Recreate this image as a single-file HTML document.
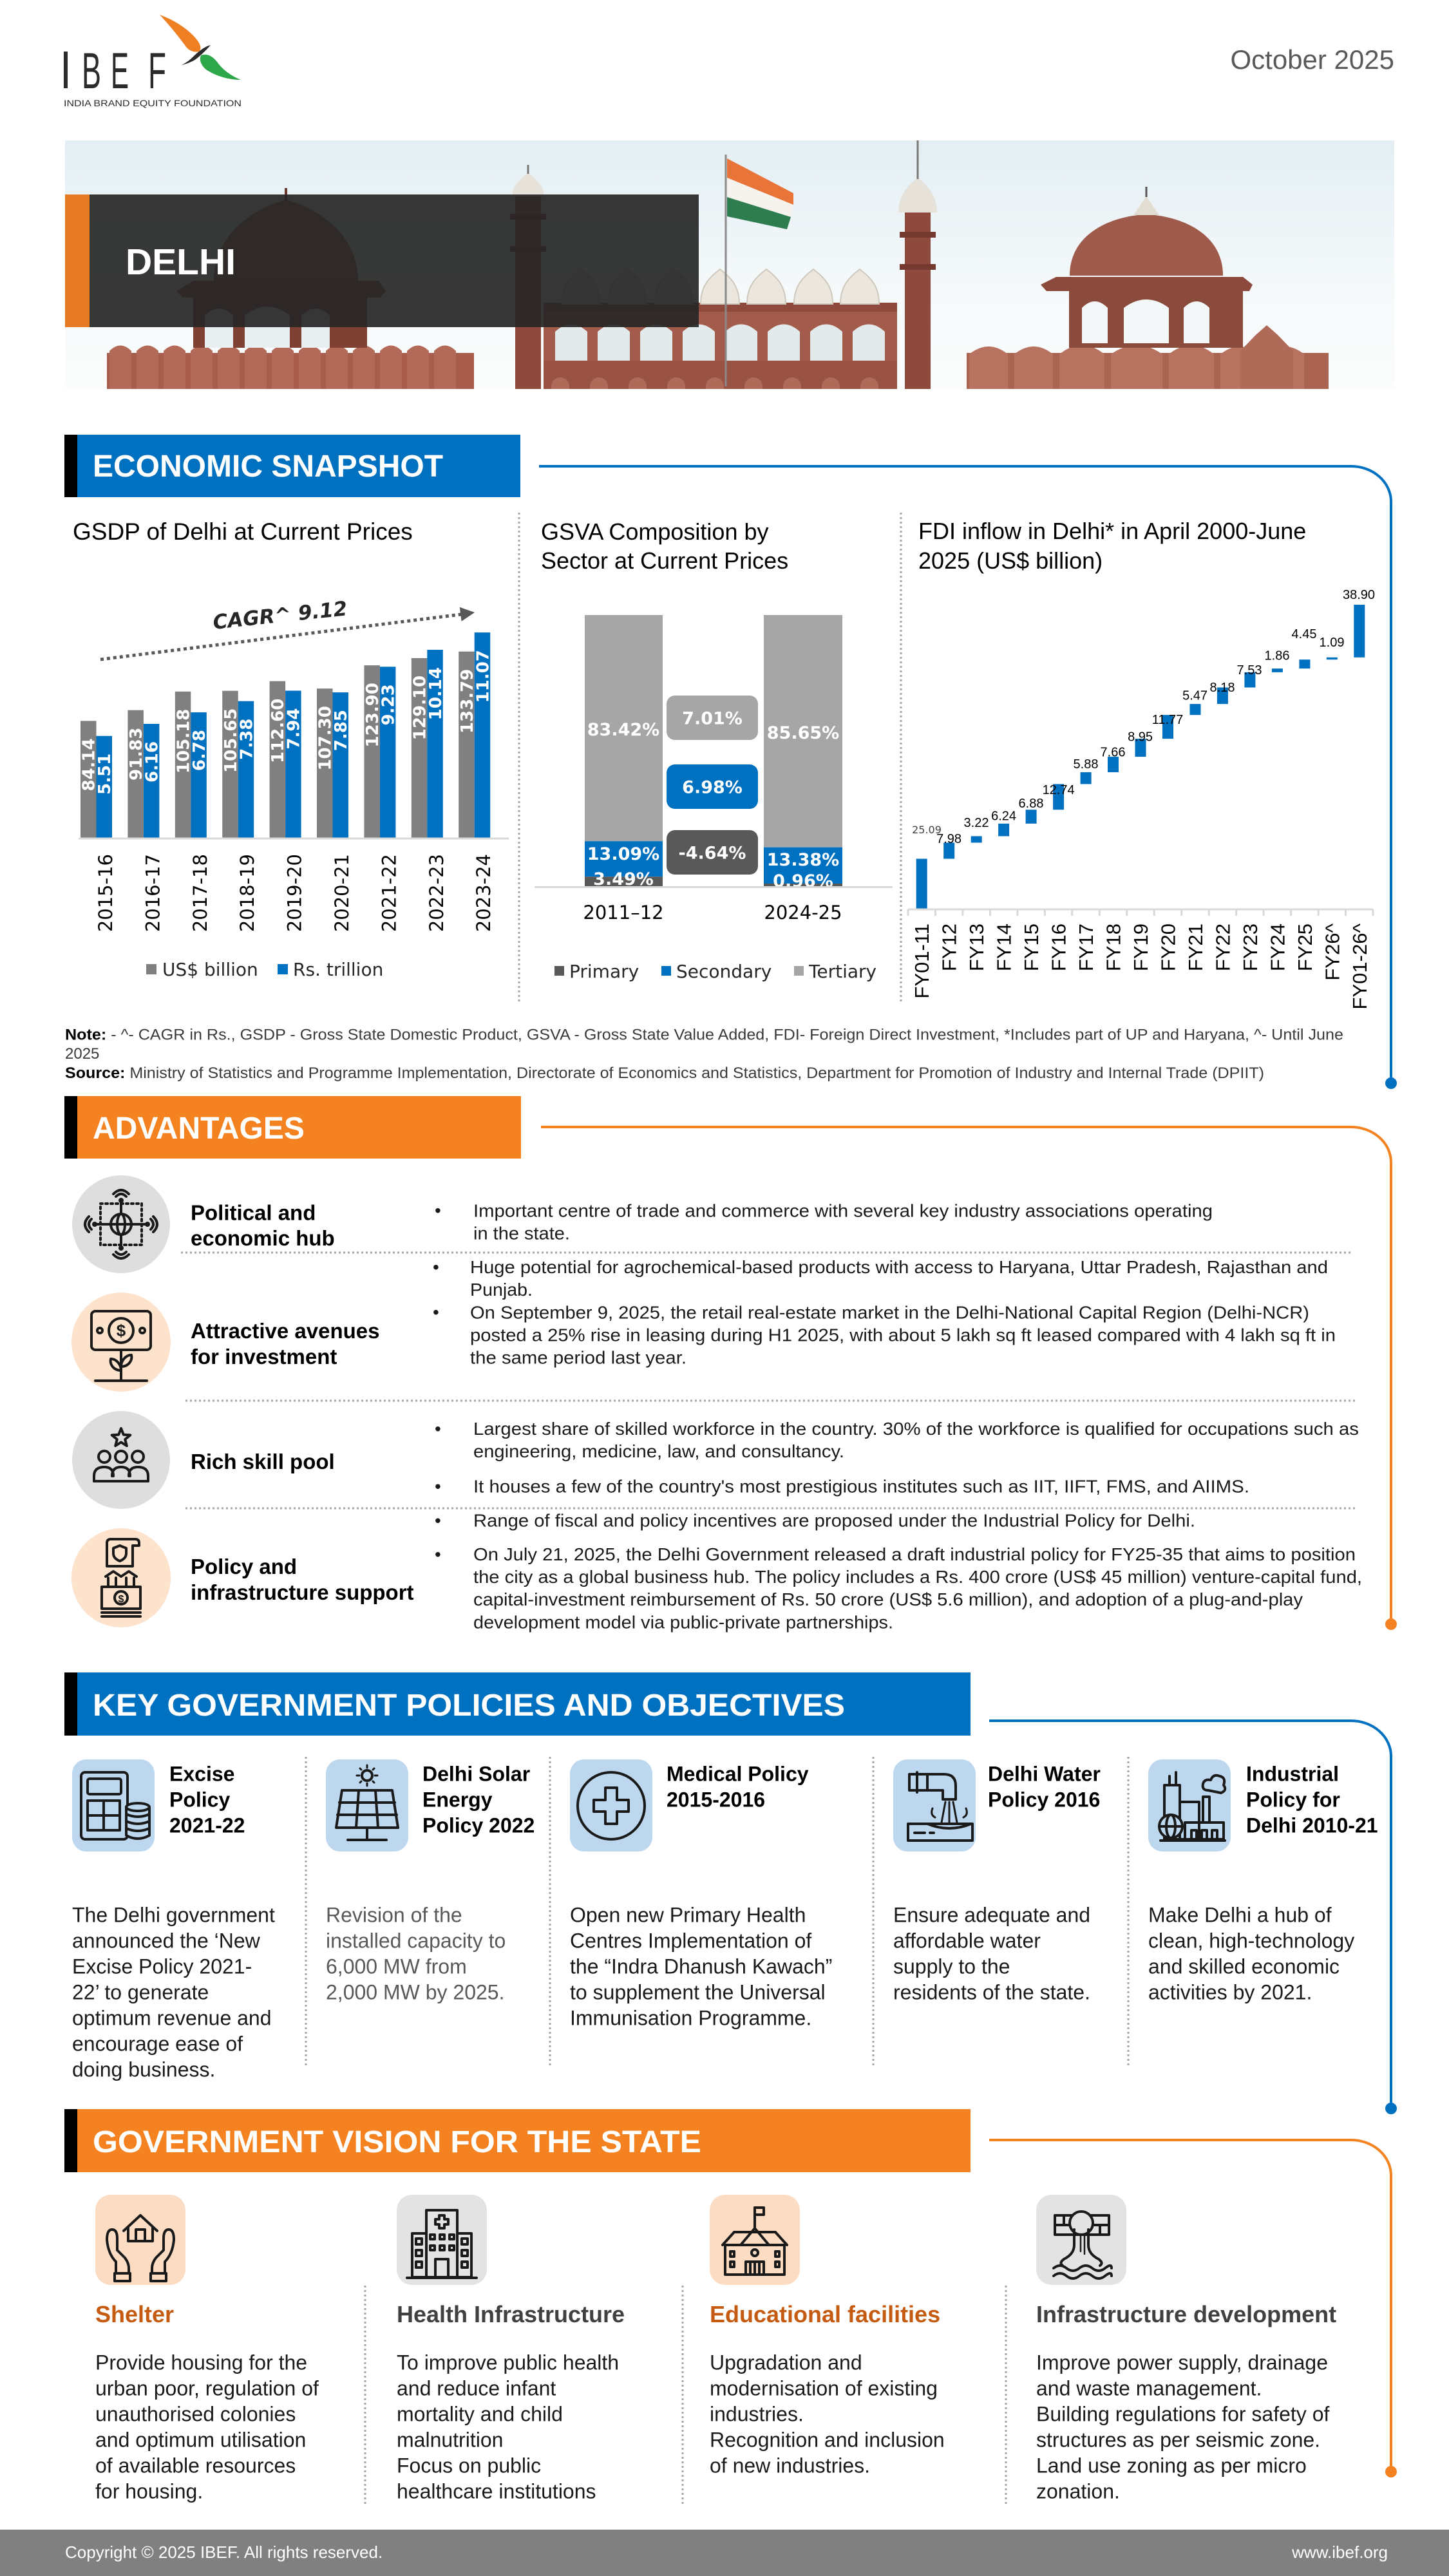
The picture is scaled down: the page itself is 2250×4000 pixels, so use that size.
<!DOCTYPE html>
<html><head><meta charset="utf-8">
<style>
html,body{margin:0;padding:0;background:#fff;}
svg{display:block;}
.a{font-family:"Liberation Sans",Arial,sans-serif;}
.d{font-family:"DejaVu Sans",Verdana,sans-serif;}
.ic{fill:none;stroke:#1a1a1a;stroke-width:4;stroke-linejoin:round;stroke-linecap:round;}
.dt{stroke:#a6a6a6;stroke-width:3;stroke-dasharray:3 4;fill:none;}
</style></head><body>
<svg width="2250" height="4000" viewBox="0 0 2250 4000" xmlns="http://www.w3.org/2000/svg">
<defs>
<linearGradient id="sky" x1="0" y1="0" x2="0" y2="1"><stop offset="0" stop-color="#e3eef3"/><stop offset="0.6" stop-color="#f5f9fa"/><stop offset="1" stop-color="#fbfcfc"/></linearGradient>
<clipPath id="bn"><rect x="101" y="218" width="2064" height="386"/></clipPath>
</defs>
<rect x="0" y="0" width="2250" height="4000" fill="#fff"/>

<!-- LOGO -->
<g>
<rect x="99" y="80" width="6" height="57" fill="#2b2b2b"/>
<text x="127" y="137" class="a" font-size="79" fill="#2b2b2b" textLength="30" lengthAdjust="spacingAndGlyphs">B</text>
<text x="172" y="137" class="a" font-size="79" fill="#2b2b2b" textLength="28" lengthAdjust="spacingAndGlyphs">E</text>
<text x="230" y="137" class="a" font-size="79" fill="#2b2b2b" textLength="28" lengthAdjust="spacingAndGlyphs">F</text>
<path d="M248,23 C268,30 292,44 306,62 C312,70 313,76 309,80 C300,82 292,78 287,70 C276,55 262,38 248,23 Z" fill="#ee7f22"/>
<path d="M312,86 C322,82 332,88 340,100 C350,112 362,119 374,124 C355,124 335,118 320,108 C312,101 309,93 312,86 Z" fill="#2ea64a"/>
<path d="M327,70 C318,72 308,80 300,88 C294,94 288,98 282,101 C290,99 298,96 304,92 C312,86 320,78 327,70 Z" fill="#2b2b2b"/>
<text x="99" y="165" class="a" font-size="14" fill="#2b2b2b" textLength="276" lengthAdjust="spacingAndGlyphs">INDIA BRAND EQUITY FOUNDATION</text>
</g>
<text x="2165" y="107" class="a" font-size="42" fill="#595959" text-anchor="end">October 2025</text>

<!-- BANNER -->
<g clip-path="url(#bn)">
<rect x="101" y="218" width="2064" height="386" fill="url(#sky)"/>
<rect x="166" y="548" width="570" height="56" fill="#a85d4c"/>
<g fill="#b36a58">
<path d="M170,604 V545 Q187,528 204,545 V604 Z"/><path d="M212,604 V545 Q229,528 246,545 V604 Z"/><path d="M254,604 V545 Q271,528 288,545 V604 Z"/><path d="M296,604 V545 Q313,528 330,545 V604 Z"/><path d="M338,604 V545 Q355,528 372,545 V604 Z"/><path d="M380,604 V545 Q397,528 414,545 V604 Z"/><path d="M422,604 V545 Q439,528 456,545 V604 Z"/><path d="M464,604 V545 Q481,528 498,545 V604 Z"/><path d="M506,604 V545 Q523,528 540,545 V604 Z"/><path d="M548,604 V545 Q565,528 582,545 V604 Z"/><path d="M590,604 V545 Q607,528 624,545 V604 Z"/><path d="M632,604 V545 Q649,528 666,545 V604 Z"/><path d="M674,604 V545 Q691,528 708,545 V604 Z"/>
</g>
<rect x="300" y="462" width="270" height="78" fill="#7e4133"/>
<path d="M318,540 V490 Q340,468 362,490 V540 Z M380,540 V490 Q415,462 450,490 V540 Z M468,540 V490 Q490,468 512,490 V540 Z" fill="#e9eef0"/>
<path d="M274,452 L300,436 L588,436 L599,452 L590,462 L284,462 Z" fill="#8c4a3c"/>
<path d="M332,436 C332,360 400,322 444,310 C488,322 556,360 556,436 Z" fill="#985546"/>
<line x1="444" y1="292" x2="444" y2="312" stroke="#6a3a30" stroke-width="4"/>
<rect x="800" y="300" width="40" height="304" fill="#8e4a3c"/>
<rect x="792" y="332" width="56" height="9" fill="#743a2f"/><rect x="792" y="382" width="56" height="9" fill="#743a2f"/>
<path d="M795,305 C795,287 812,276 820,268 C828,276 845,287 845,305 Z" fill="#e6e2da"/>
<line x1="820" y1="256" x2="820" y2="270" stroke="#777" stroke-width="3"/>
<rect x="844" y="470" width="549" height="134" fill="#a35b4b"/>
<rect x="844" y="470" width="549" height="14" fill="#8d4a3d"/>
<g fill="#e3eaec">
<path d="M862,560 V515 Q887,492 912,515 V560 Z"/><path d="M928,560 V515 Q953,492 978,515 V560 Z"/><path d="M994,560 V515 Q1019,492 1044,515 V560 Z"/><path d="M1060,560 V515 Q1085,492 1110,515 V560 Z"/><path d="M1126,560 V515 Q1151,492 1176,515 V560 Z"/><path d="M1192,560 V515 Q1217,492 1242,515 V560 Z"/><path d="M1258,560 V515 Q1283,492 1308,515 V560 Z"/><path d="M1324,560 V515 Q1349,492 1374,515 V560 Z"/>
</g>
<rect x="844" y="560" width="549" height="44" fill="#9a5243"/>
<g fill="#b06a58"><circle cx="870" cy="600" r="14"/><circle cx="930" cy="600" r="14"/><circle cx="990" cy="600" r="14"/><circle cx="1050" cy="600" r="14"/><circle cx="1110" cy="600" r="14"/><circle cx="1170" cy="600" r="14"/><circle cx="1230" cy="600" r="14"/><circle cx="1290" cy="600" r="14"/><circle cx="1350" cy="600" r="14"/></g>
<g fill="#ebe7df" stroke="#cfc8bc" stroke-width="2">
<path d="M872,472 C872,440 890,428 902,418 C914,428 932,440 932,472 Z"/><path d="M944,472 C944,440 962,428 974,418 C986,428 1004,440 1004,472 Z"/><path d="M1016,472 C1016,440 1034,428 1046,418 C1058,428 1076,440 1076,472 Z"/><path d="M1088,472 C1088,440 1106,428 1118,418 C1130,428 1148,440 1148,472 Z"/><path d="M1160,472 C1160,440 1178,428 1190,418 C1202,428 1220,440 1220,472 Z"/><path d="M1233,472 C1233,440 1251,428 1263,418 C1275,428 1293,440 1293,472 Z"/><path d="M1305,472 C1305,440 1323,428 1335,418 C1347,428 1365,440 1365,472 Z"/>
</g>
<line x1="1127" y1="240" x2="1127" y2="600" stroke="#8a8a8a" stroke-width="3"/>
<path d="M1129,246 L1232,300 L1232,318 L1129,276 Z" fill="#e8743a"/>
<path d="M1129,276 L1232,318 L1228,337 L1129,306 Z" fill="#f6f3ee"/>
<path d="M1129,306 L1228,337 L1222,356 L1129,336 Z" fill="#2e7d4f"/>
<rect x="1405" y="325" width="40" height="279" fill="#8e4a3c"/>
<rect x="1397" y="360" width="56" height="9" fill="#743a2f"/><rect x="1397" y="410" width="56" height="9" fill="#743a2f"/>
<path d="M1395,330 C1395,302 1412,286 1425,276 C1438,286 1455,302 1455,330 Z" fill="#e6e2da"/>
<line x1="1425" y1="218" x2="1425" y2="278" stroke="#777" stroke-width="3"/>
<rect x="1501" y="548" width="562" height="56" fill="#ac6452"/>
<g fill="#b87260">
<path d="M1505,604 V550 Q1535,526 1565,550 V604 Z"/><path d="M1575,604 V550 Q1605,526 1635,550 V604 Z"/><path d="M1645,604 V550 Q1680,522 1715,550 V604 Z"/><path d="M1725,604 V550 Q1765,522 1805,550 V604 Z"/><path d="M1815,604 V550 Q1850,522 1885,550 V604 Z"/><path d="M1895,604 V550 Q1925,526 1955,550 V604 Z"/><path d="M1965,604 V550 Q1995,526 2025,550 V604 Z"/>
</g>
<rect x="1660" y="450" width="270" height="90" fill="#8a4a3c"/>
<path d="M1680,533 V478 Q1700,458 1720,478 V533 Z M1745,533 V478 Q1780,452 1815,478 V533 Z M1838,533 V478 Q1858,458 1878,478 V533 Z" fill="#f4f7f7"/>
<path d="M1616,442 L1640,430 L1930,430 L1945,442 L1940,452 L1625,452 Z" fill="#8c4a3c"/>
<path d="M1661,428 C1661,360 1730,335 1780,333 C1830,335 1899,360 1899,428 Z" fill="#9e5b4c"/>
<path d="M1760,334 L1780,305 L1800,334 Z" fill="#e2ddd3"/>
<line x1="1780" y1="290" x2="1780" y2="306" stroke="#555" stroke-width="3"/>
<path d="M1926,604 V545 L1950,520 L1967,505 L1984,520 L2008,545 V604 Z" fill="#b06a58"/>
</g>
<rect x="101" y="302" width="984" height="206" fill="#262626" fill-opacity="0.92"/>
<rect x="101" y="302" width="38" height="206" fill="#e57a22"/>
<text x="195" y="426" class="a" font-size="57" font-weight="bold" fill="#fff">DELHI</text>

<!-- ECONOMIC SNAPSHOT header -->
<rect x="100" y="675" width="20" height="97" fill="#000"/>
<rect x="120" y="675" width="688" height="97" fill="#0070c0"/>
<text x="144" y="740" class="a" font-size="48" font-weight="bold" fill="#fff">ECONOMIC SNAPSHOT</text>
<path d="M837,724 H2098 A62,55 0 0 1 2160,779 V1682" fill="none" stroke="#0070c0" stroke-width="4"/>
<circle cx="2160" cy="1682" r="9" fill="#0070c0"/>

<line x1="806" y1="796" x2="806" y2="1556" class="dt"/>
<line x1="1399" y1="796" x2="1399" y2="1556" class="dt"/>

<!-- GSDP chart -->
<text x="113" y="838" class="a" font-size="37" fill="#000">GSDP of Delhi at Current Prices</text>
<g fill="#808080">
<rect x="125" y="1119.4" width="24.5" height="182.6"/><rect x="198.4" y="1102.7" width="24.5" height="199.3"/><rect x="271.8" y="1073.8" width="24.5" height="228.2"/><rect x="345.2" y="1072.7" width="24.5" height="229.3"/><rect x="418.6" y="1057.7" width="24.5" height="244.3"/><rect x="492" y="1069.2" width="24.5" height="232.8"/><rect x="565.4" y="1033.1" width="24.5" height="268.9"/><rect x="638.8" y="1021.9" width="24.5" height="280.1"/><rect x="712.2" y="1011.7" width="24.5" height="290.3"/>
</g>
<g fill="#0070c0">
<rect x="149.5" y="1142.8" width="24.5" height="159.2"/><rect x="222.9" y="1124" width="24.5" height="178"/><rect x="296.3" y="1106.1" width="24.5" height="195.9"/><rect x="369.7" y="1088.7" width="24.5" height="213.3"/><rect x="443.1" y="1072.5" width="24.5" height="229.5"/><rect x="516.5" y="1075.1" width="24.5" height="226.9"/><rect x="589.9" y="1035.3" width="24.5" height="266.7"/><rect x="663.3" y="1009" width="24.5" height="293"/><rect x="736.7" y="982.1" width="24.5" height="319.9"/>
</g>
<line x1="122" y1="1302" x2="790" y2="1302" stroke="#d9d9d9" stroke-width="3"/>
<g class="d" font-size="26" font-weight="bold" fill="#fff" text-anchor="end">
<text transform="translate(146.6,1146.4) rotate(-90)">84.14</text>
<text transform="translate(220,1129.7) rotate(-90)">91.83</text>
<text transform="translate(293.4,1100.8) rotate(-90)">105.18</text>
<text transform="translate(366.8,1099.7) rotate(-90)">105.65</text>
<text transform="translate(440.2,1084.7) rotate(-90)">112.60</text>
<text transform="translate(513.6,1096.2) rotate(-90)">107.30</text>
<text transform="translate(587,1060.1) rotate(-90)">123.90</text>
<text transform="translate(660.4,1048.9) rotate(-90)">129.10</text>
<text transform="translate(733.8,1038.7) rotate(-90)">133.79</text>
<text transform="translate(171.1,1169.8) rotate(-90)">5.51</text>
<text transform="translate(244.5,1151) rotate(-90)">6.16</text>
<text transform="translate(317.9,1133.1) rotate(-90)">6.78</text>
<text transform="translate(391.3,1115.7) rotate(-90)">7.38</text>
<text transform="translate(464.7,1099.5) rotate(-90)">7.94</text>
<text transform="translate(538.1,1102.1) rotate(-90)">7.85</text>
<text transform="translate(611.5,1062.3) rotate(-90)">9.23</text>
<text transform="translate(684.9,1036) rotate(-90)">10.14</text>
<text transform="translate(758.3,1009.1) rotate(-90)">11.07</text>
</g>
<g class="d" font-size="29" fill="#000" text-anchor="end">
<text transform="translate(174,1326) rotate(-90)">2015-16</text>
<text transform="translate(247.4,1326) rotate(-90)">2016-17</text>
<text transform="translate(320.8,1326) rotate(-90)">2017-18</text>
<text transform="translate(394.2,1326) rotate(-90)">2018-19</text>
<text transform="translate(467.6,1326) rotate(-90)">2019-20</text>
<text transform="translate(541,1326) rotate(-90)">2020-21</text>
<text transform="translate(614.4,1326) rotate(-90)">2021-22</text>
<text transform="translate(687.8,1326) rotate(-90)">2022-23</text>
<text transform="translate(761.2,1326) rotate(-90)">2023-24</text>
</g>
<line x1="156" y1="1024" x2="716" y2="954" stroke="#595959" stroke-width="5" stroke-dasharray="5 5"/>
<polygon points="737,951 716.6,964.7 713.8,942.8" fill="#595959"/>
<text transform="translate(436,966) rotate(-6)" class="d" font-size="31" font-weight="bold" font-style="italic" fill="#262626" text-anchor="middle">CAGR^ 9.12</text>
<rect x="227" y="1497" width="16" height="16" fill="#808080"/>
<text x="252" y="1515" class="d" font-size="28" fill="#262626">US$ billion</text>
<rect x="431" y="1497" width="16" height="16" fill="#0070c0"/>
<text x="455" y="1515" class="d" font-size="28" fill="#262626">Rs. trillion</text>

<!-- GSVA chart -->
<text x="840" y="838" class="a" font-size="36" fill="#000">GSVA Composition by</text>
<text x="840" y="883" class="a" font-size="36" fill="#000">Sector at Current Prices</text>
<rect x="908" y="955" width="121" height="351.2" fill="#a6a6a6"/>
<rect x="908" y="1306.2" width="121" height="55.1" fill="#0070c0"/>
<rect x="908" y="1361.3" width="121" height="14.7" fill="#595959"/>
<rect x="1186" y="955" width="122" height="360.7" fill="#a6a6a6"/>
<rect x="1186" y="1315.7" width="122" height="56.3" fill="#0070c0"/>
<rect x="1186" y="1372" width="122" height="4" fill="#595959"/>
<rect x="1035" y="1080" width="142" height="69" rx="13" fill="#a6a6a6"/>
<rect x="1035" y="1187" width="142" height="69" rx="13" fill="#0070c0"/>
<rect x="1035" y="1289" width="142" height="69" rx="13" fill="#595959"/>
<g class="d" font-size="27" font-weight="bold" fill="#fff" text-anchor="middle">
<text x="968" y="1142">83.42%</text>
<text x="968" y="1335">13.09%</text>
<text x="968" y="1374">3.49%</text>
<text x="1247" y="1147">85.65%</text>
<text x="1247" y="1344">13.38%</text>
<text x="1247" y="1377">0.96%</text>
<text x="1106" y="1124.5">7.01%</text>
<text x="1106" y="1231.5">6.98%</text>
<text x="1106" y="1333.5">-4.64%</text>
</g>
<rect x="830" y="1376" width="556" height="3" fill="#d9d9d9"/>
<rect x="830" y="1379" width="556" height="20" fill="#fff"/>
<text x="968" y="1427" class="d" font-size="29" fill="#000" text-anchor="middle">2011–12</text>
<text x="1247" y="1427" class="d" font-size="29" fill="#000" text-anchor="middle">2024-25</text>
<rect x="861" y="1500" width="15" height="15" fill="#595959"/>
<text x="884" y="1518" class="d" font-size="28" fill="#262626">Primary</text>
<rect x="1027" y="1500" width="15" height="15" fill="#0070c0"/>
<text x="1050" y="1518" class="d" font-size="28" fill="#262626">Secondary</text>
<rect x="1233" y="1500" width="15" height="15" fill="#a6a6a6"/>
<text x="1256" y="1518" class="d" font-size="28" fill="#262626">Tertiary</text>

<!-- FDI chart -->
<text x="1426" y="837" class="a" font-size="36" fill="#000">FDI inflow in Delhi* in April 2000-June</text>
<text x="1426" y="883" class="a" font-size="36" fill="#000">2025 (US$ billion)</text>
<g fill="#0070c0">
<rect x="1422.7" y="1333.5" width="17" height="78.5"/>
<rect x="1465.2" y="1308.5" width="17" height="25"/>
<rect x="1507.7" y="1298.4" width="17" height="10.1"/>
<rect x="1550.1" y="1278.9" width="17" height="19.5"/>
<rect x="1592.6" y="1257.3" width="17" height="21.6"/>
<rect x="1635.1" y="1217.5" width="17" height="39.8"/>
<rect x="1677.6" y="1199.1" width="17" height="18.4"/>
<rect x="1720" y="1175.1" width="17" height="24"/>
<rect x="1762.5" y="1147.1" width="17" height="28"/>
<rect x="1805" y="1110.2" width="17" height="36.9"/>
<rect x="1847.5" y="1093.1" width="17" height="17.1"/>
<rect x="1889.9" y="1067.5" width="17" height="25.6"/>
<rect x="1932.4" y="1043.9" width="17" height="23.6"/>
<rect x="1974.9" y="1038.1" width="17" height="5.8"/>
<rect x="2017.4" y="1024.2" width="17" height="13.9"/>
<rect x="2059.8" y="1020.8" width="17" height="3.4"/>
<rect x="2102.3" y="939" width="17" height="81.8"/>
</g>
<g stroke="#d9d9d9" stroke-width="3">
<line x1="1410" y1="1412" x2="2132" y2="1412"/>
<line x1="1410" y1="1412" x2="1410" y2="1422"/><line x1="1452.5" y1="1412" x2="1452.5" y2="1422"/><line x1="1494.9" y1="1412" x2="1494.9" y2="1422"/><line x1="1537.4" y1="1412" x2="1537.4" y2="1422"/><line x1="1579.9" y1="1412" x2="1579.9" y2="1422"/><line x1="1622.4" y1="1412" x2="1622.4" y2="1422"/><line x1="1664.8" y1="1412" x2="1664.8" y2="1422"/><line x1="1707.3" y1="1412" x2="1707.3" y2="1422"/><line x1="1749.8" y1="1412" x2="1749.8" y2="1422"/><line x1="1792.2" y1="1412" x2="1792.2" y2="1422"/><line x1="1834.7" y1="1412" x2="1834.7" y2="1422"/><line x1="1877.2" y1="1412" x2="1877.2" y2="1422"/><line x1="1919.6" y1="1412" x2="1919.6" y2="1422"/><line x1="1962.1" y1="1412" x2="1962.1" y2="1422"/><line x1="2004.6" y1="1412" x2="2004.6" y2="1422"/><line x1="2047.1" y1="1412" x2="2047.1" y2="1422"/><line x1="2089.5" y1="1412" x2="2089.5" y2="1422"/><line x1="2132" y1="1412" x2="2132" y2="1422"/>
</g>
<text x="1439" y="1294" class="d" font-size="16" fill="#404040" text-anchor="middle">25.09</text>
<g class="a" font-size="20" fill="#000" text-anchor="middle">
<text x="1473.6" y="1309">7.98</text>
<text x="1516" y="1284">3.22</text>
<text x="1558.6" y="1273.6">6.24</text>
<text x="1601" y="1254">6.88</text>
<text x="1643.6" y="1232.8">12.74</text>
<text x="1686" y="1193">5.88</text>
<text x="1728" y="1174.5">7.66</text>
<text x="1770.6" y="1150.5">8.95</text>
<text x="1813" y="1123.8">11.77</text>
<text x="1855.6" y="1086.7">5.47</text>
<text x="1898" y="1074">8.18</text>
<text x="1940" y="1047">7.53</text>
<text x="1983" y="1024.6">1.86</text>
<text x="2025" y="990.8">4.45</text>
<text x="2068" y="1004">1.09</text>
<text x="2110" y="929.8">38.90</text>
</g>
<g class="a" font-size="31" fill="#000" text-anchor="end">
<text transform="translate(1442,1434) rotate(-90)">FY01-11</text>
<text transform="translate(1484.7,1434) rotate(-90)">FY12</text>
<text transform="translate(1527.2,1434) rotate(-90)">FY13</text>
<text transform="translate(1569.6,1434) rotate(-90)">FY14</text>
<text transform="translate(1612.1,1434) rotate(-90)">FY15</text>
<text transform="translate(1654.6,1434) rotate(-90)">FY16</text>
<text transform="translate(1697.1,1434) rotate(-90)">FY17</text>
<text transform="translate(1739.5,1434) rotate(-90)">FY18</text>
<text transform="translate(1782,1434) rotate(-90)">FY19</text>
<text transform="translate(1824.5,1434) rotate(-90)">FY20</text>
<text transform="translate(1867,1434) rotate(-90)">FY21</text>
<text transform="translate(1909.4,1434) rotate(-90)">FY22</text>
<text transform="translate(1951.9,1434) rotate(-90)">FY23</text>
<text transform="translate(1994.4,1434) rotate(-90)">FY24</text>
<text transform="translate(2036.9,1434) rotate(-90)">FY25</text>
<text transform="translate(2079.3,1434) rotate(-90)">FY26^</text>
<text transform="translate(2121.8,1434) rotate(-90)">FY01-26^</text>
</g>

<!-- NOTE -->
<text x="101" y="1614.5" class="a" font-size="24" fill="#3a3a3a" textLength="1985" lengthAdjust="spacingAndGlyphs"><tspan font-weight="bold" fill="#000">Note:</tspan> - ^- CAGR in Rs., GSDP - Gross State Domestic Product, GSVA - Gross State Value Added, FDI- Foreign Direct Investment, *Includes part of UP and Haryana, ^- Until June</text>
<text x="101" y="1644" class="a" font-size="24" fill="#3a3a3a">2025</text>
<text x="101" y="1674" class="a" font-size="24" fill="#3a3a3a" textLength="1862" lengthAdjust="spacingAndGlyphs"><tspan font-weight="bold" fill="#000">Source:</tspan> Ministry of Statistics and Programme Implementation, Directorate of Economics and Statistics, Department for Promotion of Industry and Internal Trade (DPIIT)</text>

<!-- ADVANTAGES header -->
<rect x="100" y="1702" width="20" height="97" fill="#000"/>
<rect x="120" y="1702" width="689" height="97" fill="#f58220"/>
<text x="144" y="1768" class="a" font-size="48" font-weight="bold" fill="#fff">ADVANTAGES</text>
<path d="M840,1750 H2098 A62,55 0 0 1 2160,1805 V2522" fill="none" stroke="#f58220" stroke-width="4"/>
<circle cx="2160" cy="2522" r="9" fill="#f58220"/>

<circle cx="188" cy="1901" r="76" fill="#dedede"/>
<circle cx="188" cy="2084" r="77" fill="#fde2cc"/>
<circle cx="188" cy="2267" r="76" fill="#dedede"/>
<circle cx="188" cy="2450" r="77" fill="#fde2cc"/>

<g class="ic" stroke-width="3.5">
<circle cx="188" cy="1901" r="16"/><ellipse cx="188" cy="1901" rx="6" ry="16"/><line x1="172" y1="1901" x2="204" y2="1901"/>
<line x1="188" y1="1868" x2="188" y2="1885"/><line x1="188" y1="1917" x2="188" y2="1934"/>
<line x1="150" y1="1901" x2="172" y2="1901"/><line x1="204" y1="1901" x2="226" y2="1901"/>
<rect x="156" y="1869" width="64" height="64" stroke-dasharray="3 5"/>
<path d="M180,1858 Q188,1850 196,1858 M176,1854 Q188,1842 200,1854 M180,1944 Q188,1952 196,1944 M176,1948 Q188,1960 200,1948 M142,1893 Q134,1901 142,1909 M138,1889 Q126,1901 138,1913 M234,1893 Q242,1901 234,1909 M238,1889 Q250,1901 238,1913"/>
</g>
<g fill="#1a1a1a"><circle cx="188" cy="1864" r="4"/><circle cx="188" cy="1938" r="4"/><circle cx="147" cy="1901" r="4"/><circle cx="229" cy="1901" r="4"/></g>
<g class="ic" stroke-width="4">
<rect x="142" y="2036" width="92" height="60" rx="6"/>
<circle cx="188" cy="2066" r="19"/>
<circle cx="155" cy="2066" r="4"/><circle cx="221" cy="2066" r="4"/>
<line x1="188" y1="2096" x2="188" y2="2142"/>
<path d="M188,2128 C176,2128 170,2118 172,2110 C180,2110 188,2118 188,2128 Z M188,2122 C200,2122 206,2112 204,2104 C196,2104 188,2112 188,2122 Z"/>
<line x1="148" y1="2144" x2="228" y2="2144"/>
</g>
<text x="188" y="2075" class="a" font-size="26" font-weight="bold" text-anchor="middle" fill="#1a1a1a">$</text>
<polygon points="188,2218 191.8,2227.7 202.3,2228.4 194.2,2235 196.8,2245.1 188,2239.5 179.2,2245.1 181.8,2235 173.7,2228.4 184.2,2227.7" class="ic" stroke-width="4"/>
<g class="ic" stroke-width="5">
<circle cx="162" cy="2262" r="9"/><circle cx="188" cy="2262" r="9"/><circle cx="214" cy="2262" r="9"/>
<path d="M146,2300 V2292 Q146,2278 162,2278 Q176,2278 176,2292 M174,2292 Q174,2278 188,2278 Q202,2278 202,2292 M200,2292 Q200,2278 214,2278 Q230,2278 230,2292 V2300"/>
<line x1="146" y1="2300" x2="230" y2="2300"/>
</g>
<g class="ic" stroke-width="3.5">
<path d="M166,2432 V2396 Q166,2390 172,2390 H210 Q216,2390 216,2396 V2400 H206 V2432 Z"/>
<path d="M186,2400 L196,2404 V2412 Q196,2420 186,2424 Q176,2420 176,2412 V2404 Z"/>
<path d="M164,2448 L176,2440 L188,2448 M188,2448 L200,2440 L212,2448"/>
<line x1="168" y1="2450" x2="168" y2="2462"/><line x1="180" y1="2450" x2="180" y2="2462"/><line x1="196" y1="2450" x2="196" y2="2462"/><line x1="208" y1="2450" x2="208" y2="2462"/>
<rect x="158" y="2464" width="60" height="34"/>
<circle cx="188" cy="2481" r="10"/>
<line x1="158" y1="2504" x2="218" y2="2504"/><line x1="158" y1="2510" x2="218" y2="2510"/>
</g>
<text x="188" y="2488" class="a" font-size="16" font-weight="bold" text-anchor="middle" fill="#1a1a1a">$</text>

<g class="a" font-size="33" font-weight="bold" fill="#000">
<text x="296" y="1894.5">Political and</text>
<text x="296" y="1934">economic hub</text>
<text x="296" y="2078">Attractive avenues</text>
<text x="296" y="2118">for investment</text>
<text x="296" y="2281">Rich skill pool</text>
<text x="296" y="2444">Policy and</text>
<text x="296" y="2484">infrastructure support</text>
</g>
<line x1="281" y1="1945" x2="2098" y2="1945" class="dt" stroke="#999"/>
<line x1="288" y1="2175" x2="2107" y2="2175" class="dt" stroke="#999"/>
<line x1="288" y1="2342" x2="2107" y2="2342" class="dt" stroke="#999"/>
<g class="a" font-size="28" fill="#1a1a1a">
<text x="675" y="1889">•</text>
<text x="735" y="1889.5" textLength="1148" lengthAdjust="spacingAndGlyphs">Important centre of trade and commerce with several key industry associations operating</text>
<text x="735" y="1924.6" textLength="150" lengthAdjust="spacingAndGlyphs">in the state.</text>
<text x="672" y="1977">•</text>
<text x="730" y="1977" textLength="1332" lengthAdjust="spacingAndGlyphs">Huge potential for agrochemical-based products with access to Haryana, Uttar Pradesh, Rajasthan and</text>
<text x="730" y="2012" textLength="97" lengthAdjust="spacingAndGlyphs">Punjab.</text>
<text x="672" y="2047">•</text>
<text x="730" y="2047.3" textLength="1303" lengthAdjust="spacingAndGlyphs">On September 9, 2025, the retail real-estate market in the Delhi-National Capital Region (Delhi-NCR)</text>
<text x="730" y="2082.5" textLength="1344" lengthAdjust="spacingAndGlyphs">posted a 25% rise in leasing during H1 2025, with about 5 lakh sq ft leased compared with 4 lakh sq ft in</text>
<text x="730" y="2117.6" textLength="336" lengthAdjust="spacingAndGlyphs">the same period last year.</text>
<text x="675" y="2228">•</text>
<text x="735" y="2228" textLength="1375" lengthAdjust="spacingAndGlyphs">Largest share of skilled workforce in the country. 30% of the workforce is qualified for occupations such as</text>
<text x="735" y="2263" textLength="576" lengthAdjust="spacingAndGlyphs">engineering, medicine, law, and consultancy.</text>
<text x="675" y="2317.6">•</text>
<text x="735" y="2317.6" textLength="1205" lengthAdjust="spacingAndGlyphs">It houses a few of the country's most prestigious institutes such as IIT, IIFT, FMS, and AIIMS.</text>
<text x="675" y="2370.6">•</text>
<text x="735" y="2370.6" textLength="1121" lengthAdjust="spacingAndGlyphs">Range of fiscal and policy incentives are proposed under the Industrial Policy for Delhi.</text>
<text x="675" y="2423">•</text>
<text x="735" y="2423" textLength="1370" lengthAdjust="spacingAndGlyphs">On July 21, 2025, the Delhi Government released a draft industrial policy for FY25-35 that aims to position</text>
<text x="735" y="2458" textLength="1380" lengthAdjust="spacingAndGlyphs">the city as a global business hub. The policy includes a Rs. 400 crore (US$ 45 million) venture-capital fund,</text>
<text x="735" y="2493" textLength="1288" lengthAdjust="spacingAndGlyphs">capital-investment reimbursement of Rs. 50 crore (US$ 5.6 million), and adoption of a plug-and-play</text>
<text x="735" y="2528.5" textLength="652" lengthAdjust="spacingAndGlyphs">development model via public-private partnerships.</text>
</g>

<!-- KEY GOVERNMENT POLICIES header -->
<rect x="100" y="2597" width="20" height="98" fill="#000"/>
<rect x="120" y="2597" width="1387" height="98" fill="#0070c0"/>
<text x="144" y="2664" class="a" font-size="48" font-weight="bold" fill="#fff" textLength="1168" lengthAdjust="spacingAndGlyphs">KEY GOVERNMENT POLICIES AND OBJECTIVES</text>
<path d="M1536,2672 H2098 A62,55 0 0 1 2160,2727 V3274" fill="none" stroke="#0070c0" stroke-width="4"/>
<circle cx="2160" cy="3274" r="9" fill="#0070c0"/>

<g fill="#bdd7ee">
<rect x="112" y="2732" width="128" height="143" rx="22"/>
<rect x="506" y="2732" width="128" height="143" rx="22"/>
<rect x="885" y="2732" width="128" height="143" rx="22"/>
<rect x="1387" y="2732" width="128" height="143" rx="22"/>
<rect x="1783" y="2732" width="128" height="143" rx="22"/>
</g>
<g class="ic" stroke-width="4">
<rect x="126" y="2752" width="72" height="104" rx="6"/>
<rect x="136" y="2762" width="52" height="24" rx="3"/>
<rect x="136" y="2796" width="50" height="46"/>
<line x1="161" y1="2796" x2="161" y2="2842"/><line x1="136" y1="2819" x2="186" y2="2819"/>
<path d="M196,2806 V2850 Q214,2860 232,2850 V2806" fill="#bdd7ee"/>
<ellipse cx="214" cy="2806" rx="18" ry="6" fill="#bdd7ee"/>
<path d="M196,2817 Q214,2825 232,2817 M196,2828 Q214,2836 232,2828 M196,2839 Q214,2847 232,2839"/>
</g>
<g class="ic" stroke-width="4">
<circle cx="570" cy="2757" r="8"/>
<path d="M570,2741 V2745 M570,2769 V2773 M554,2757 H558 M582,2757 H586 M559,2746 L561,2748 M579,2766 L581,2768 M559,2768 L561,2766 M579,2748 L581,2746" stroke-width="3"/>
<polygon points="531,2780 609,2780 618,2838 522,2838"/>
<line x1="557" y1="2780" x2="553" y2="2838"/><line x1="583" y1="2780" x2="587" y2="2838"/>
<line x1="527" y1="2799" x2="613" y2="2799"/><line x1="524" y1="2818" x2="616" y2="2818"/>
<line x1="570" y1="2838" x2="570" y2="2855"/><line x1="540" y1="2857" x2="600" y2="2857"/>
</g>
<g class="ic" stroke-width="5">
<circle cx="949" cy="2804" r="52"/>
<path d="M940,2776 H958 V2795 H976 V2813 H958 V2832 H940 V2813 H922 V2795 H940 Z"/>
</g>
<g class="ic" stroke-width="4">
<path d="M1412,2755 H1466 Q1484,2755 1484,2773 V2794 H1464 V2780 H1412 Z"/>
<line x1="1424" y1="2752" x2="1424" y2="2783"/><line x1="1440" y1="2755" x2="1440" y2="2780"/>
<path d="M1468,2798 L1462,2830 M1474,2798 V2830 M1480,2798 L1486,2830" stroke-width="3"/>
<path d="M1448,2808 Q1444,2818 1452,2822 M1500,2808 Q1504,2818 1496,2822" stroke-width="3"/>
<rect x="1410" y="2832" width="100" height="26"/>
<path d="M1440,2832 Q1474,2846 1508,2832 M1420,2846 H1436 M1444,2846 H1450"/>
</g>
<g class="ic" stroke-width="3.5">
<rect x="1808" y="2772" width="24" height="84"/>
<line x1="1816" y1="2772" x2="1816" y2="2758"/><line x1="1826" y1="2772" x2="1826" y2="2752"/>
<rect x="1832" y="2798" width="30" height="58"/>
<rect x="1868" y="2790" width="10" height="40"/>
<path d="M1840,2856 V2830 H1900 V2856 Z M1850,2856 V2842 H1858 V2856 M1866,2856 V2842 H1874 V2856 M1882,2856 V2842 H1890 V2856"/>
<path d="M1876,2780 Q1866,2780 1868,2770 Q1870,2762 1880,2764 Q1884,2754 1894,2758 Q1904,2760 1900,2772 Q1906,2780 1896,2784 Z"/>
<circle cx="1818" cy="2836" r="18" fill="#bdd7ee"/>
<ellipse cx="1818" cy="2836" rx="7" ry="18"/><line x1="1800" y1="2836" x2="1836" y2="2836"/>
<line x1="1802" y1="2858" x2="1902" y2="2858"/>
</g>

<g class="a" font-size="32" font-weight="bold" fill="#000">
<text x="263" y="2765.5">Excise</text><text x="263" y="2805.5">Policy</text><text x="263" y="2845.5">2021-22</text>
<text x="656" y="2765.5">Delhi Solar</text><text x="656" y="2805.5">Energy</text><text x="656" y="2845.5">Policy 2022</text>
<text x="1035" y="2765.5">Medical Policy</text><text x="1035" y="2805.5">2015-2016</text>
<text x="1534" y="2765.5">Delhi Water</text><text x="1534" y="2805.5">Policy 2016</text>
<text x="1935" y="2765.5">Industrial</text><text x="1935" y="2805.5">Policy for</text><text x="1935" y="2845.5">Delhi 2010-21</text>
</g>
<line x1="475" y1="2728" x2="475" y2="3208" class="dt" stroke="#999"/>
<line x1="854" y1="2728" x2="854" y2="3208" class="dt" stroke="#999"/>
<line x1="1356" y1="2728" x2="1356" y2="3208" class="dt" stroke="#999"/>
<line x1="1752" y1="2728" x2="1752" y2="3208" class="dt" stroke="#999"/>
<g class="a" font-size="32" fill="#1a1a1a">
<text x="112" y="2984.5">The Delhi government</text>
<text x="112" y="3024.5">announced the ‘New</text>
<text x="112" y="3064.5">Excise Policy 2021-</text>
<text x="112" y="3104.5">22’ to generate</text>
<text x="112" y="3144.5">optimum revenue and</text>
<text x="112" y="3184.5">encourage ease of</text>
<text x="112" y="3224.5">doing business.</text>
<text x="885" y="2984.5">Open new Primary Health</text>
<text x="885" y="3024.5">Centres Implementation of</text>
<text x="885" y="3064.5">the “Indra Dhanush Kawach”</text>
<text x="885" y="3104.5">to supplement the Universal</text>
<text x="885" y="3144.5">Immunisation Programme.</text>
<text x="1387" y="2984.5">Ensure adequate and</text>
<text x="1387" y="3024.5">affordable water</text>
<text x="1387" y="3064.5">supply to the</text>
<text x="1387" y="3104.5">residents of the state.</text>
<text x="1783" y="2984.5">Make Delhi a hub of</text>
<text x="1783" y="3024.5">clean, high-technology</text>
<text x="1783" y="3064.5">and skilled economic</text>
<text x="1783" y="3104.5">activities by 2021.</text>
</g>
<g class="a" font-size="32" fill="#595959">
<text x="506" y="2984.5">Revision of the</text>
<text x="506" y="3024.5">installed capacity to</text>
<text x="506" y="3064.5">6,000 MW from</text>
<text x="506" y="3104.5">2,000 MW by 2025.</text>
</g>

<!-- VISION header -->
<rect x="100" y="3275" width="20" height="98" fill="#000"/>
<rect x="120" y="3275" width="1387" height="98" fill="#f58220"/>
<text x="144" y="3342" class="a" font-size="48" font-weight="bold" fill="#fff" textLength="945" lengthAdjust="spacingAndGlyphs">GOVERNMENT VISION FOR THE STATE</text>
<path d="M1536,3323 H2098 A62,55 0 0 1 2160,3378 V3838" fill="none" stroke="#f58220" stroke-width="4"/>
<circle cx="2160" cy="3838" r="9" fill="#f58220"/>

<rect x="148" y="3408" width="140" height="140" rx="24" fill="#fcdcc3"/>
<rect x="616" y="3408" width="140" height="140" rx="24" fill="#e3e3e3"/>
<rect x="1102" y="3408" width="140" height="140" rx="24" fill="#fcdcc3"/>
<rect x="1609" y="3408" width="140" height="140" rx="24" fill="#e3e3e3"/>
<g class="ic" stroke-width="4.5">
<path d="M192,3464 L218,3440 L244,3464"/>
<path d="M199,3458 V3480 H237 V3458"/>
<rect x="211" y="3462" width="14" height="18"/>
<path d="M180,3530 V3512 Q168,3500 166,3478 Q166,3462 174,3462 Q182,3462 182,3476 V3494 M182,3494 L194,3506 Q200,3514 200,3522 V3530"/>
<path d="M256,3530 V3512 Q268,3500 270,3478 Q270,3462 262,3462 Q254,3462 254,3476 V3494 M254,3494 L242,3506 Q236,3514 236,3522 V3530"/>
<rect x="178" y="3530" width="24" height="12"/><rect x="234" y="3530" width="24" height="12"/>
</g>
<g class="ic" stroke-width="3.5">
<rect x="662" y="3432" width="48" height="104"/>
<rect x="640" y="3468" width="22" height="68"/><rect x="710" y="3468" width="22" height="68"/>
<path d="M682,3440 H690 V3446 H696 V3454 H690 V3460 H682 V3454 H676 V3446 H682 Z"/>
<rect x="676" y="3508" width="20" height="28"/>
<rect x="646" y="3476" width="9" height="9"/><rect x="646" y="3494" width="9" height="9"/><rect x="646" y="3512" width="9" height="9"/>
<rect x="717" y="3476" width="9" height="9"/><rect x="717" y="3494" width="9" height="9"/><rect x="717" y="3512" width="9" height="9"/>
<rect x="668" y="3470" width="7" height="7"/><rect x="683" y="3470" width="7" height="7"/><rect x="698" y="3470" width="7" height="7"/>
<rect x="668" y="3487" width="7" height="7"/><rect x="683" y="3487" width="7" height="7"/><rect x="698" y="3487" width="7" height="7"/>
<line x1="632" y1="3537" x2="740" y2="3537"/>
</g>
<g class="ic" stroke-width="4">
<line x1="1172" y1="3458" x2="1172" y2="3428"/><rect x="1172" y="3428" width="14" height="11"/>
<path d="M1122,3486 L1140,3466 H1204 L1222,3486"/>
<path d="M1150,3486 L1172,3460 L1194,3486"/>
<rect x="1126" y="3486" width="92" height="46"/>
<circle cx="1172" cy="3498" r="5"/>
<rect x="1134" y="3496" width="6" height="8"/><rect x="1134" y="3512" width="6" height="8"/><rect x="1204" y="3496" width="6" height="8"/><rect x="1204" y="3512" width="6" height="8"/>
<path d="M1158,3532 V3512 H1186 V3532 M1165,3514 V3532 M1172,3514 V3532 M1179,3514 V3532"/>
</g>
<g class="ic" stroke-width="4">
<rect x="1638" y="3440" width="84" height="30"/>
<line x1="1638" y1="3455" x2="1722" y2="3455"/><line x1="1652" y1="3440" x2="1652" y2="3455"/><line x1="1708" y1="3455" x2="1708" y2="3470"/>
<circle cx="1679" cy="3452" r="18" fill="#e3e3e3"/>
<path d="M1668,3462 V3486 Q1668,3500 1652,3508 Q1644,3514 1650,3518 M1690,3462 V3486 Q1690,3500 1706,3508 Q1714,3514 1708,3518"/>
<path d="M1678,3470 V3496 M1684,3472 V3500" stroke-width="2.5"/>
<path d="M1636,3522 q10,-8 20,0 t20,0 t20,0 t20,0 t10,0 M1636,3534 q10,-8 20,0 t20,0 t20,0 t20,0 t10,0"/>
</g>

<g class="a" font-size="36" font-weight="bold">
<text x="148" y="3606" fill="#c55a11">Shelter</text>
<text x="616" y="3606" fill="#404040">Health Infrastructure</text>
<text x="1102" y="3606" fill="#c55a11">Educational facilities</text>
<text x="1609" y="3606" fill="#404040">Infrastructure development</text>
</g>
<line x1="567" y1="3549" x2="567" y2="3891" class="dt" stroke="#999"/>
<line x1="1060" y1="3549" x2="1060" y2="3891" class="dt" stroke="#999"/>
<line x1="1562" y1="3549" x2="1562" y2="3891" class="dt" stroke="#999"/>
<g class="a" font-size="32" fill="#1a1a1a">
<text x="148" y="3679.5">Provide housing for the</text>
<text x="148" y="3719.5">urban poor, regulation of</text>
<text x="148" y="3759.5">unauthorised colonies</text>
<text x="148" y="3799.5">and optimum utilisation</text>
<text x="148" y="3839.5">of available resources</text>
<text x="148" y="3879.5">for housing.</text>
<text x="616" y="3679.5">To improve public health</text>
<text x="616" y="3719.5">and reduce infant</text>
<text x="616" y="3759.5">mortality and child</text>
<text x="616" y="3799.5">malnutrition</text>
<text x="616" y="3839.5">Focus on public</text>
<text x="616" y="3879.5">healthcare institutions</text>
<text x="1102" y="3679.5">Upgradation and</text>
<text x="1102" y="3719.5">modernisation of existing</text>
<text x="1102" y="3759.5">industries.</text>
<text x="1102" y="3799.5">Recognition and inclusion</text>
<text x="1102" y="3839.5">of new industries.</text>
<text x="1609" y="3679.5">Improve power supply, drainage</text>
<text x="1609" y="3719.5">and waste management.</text>
<text x="1609" y="3759.5">Building regulations for safety of</text>
<text x="1609" y="3799.5">structures as per seismic zone.</text>
<text x="1609" y="3839.5">Land use zoning as per micro</text>
<text x="1609" y="3879.5">zonation.</text>
</g>

<!-- FOOTER -->
<rect x="0" y="3928" width="2250" height="72" fill="#808080"/>
<text x="101" y="3972" class="a" font-size="26" fill="#fff">Copyright © 2025 IBEF. All rights reserved.</text>
<text x="2155" y="3972" class="a" font-size="26" fill="#fff" text-anchor="end">www.ibef.org</text>
</svg>
</body></html>
